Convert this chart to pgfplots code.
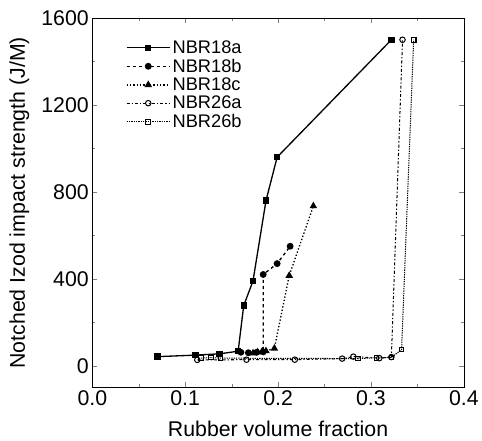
\documentclass[border={6bp 0bp 0bp 7bp}]{standalone}
\usepackage{fontspec}
\setmainfont{Liberation Sans}
\usepackage{pgfplots}
\pgfplotsset{compat=1.18}
\begin{document}
\begin{tikzpicture}
\begin{axis}[
  scale only axis,
  width=365bp, height=363bp,
  xmin=0, xmax=0.4, ymin=-100, ymax=1600,
  xtick={0,0.1,0.2,0.3,0.4}, ytick={0,400,800,1200,1600},
  minor x tick num=1, minor y tick num=1,
  tick align=inside,
  major tick length=5pt, minor tick length=3pt,
  /pgf/number format/assume math mode=true,
  x tick label style={/pgf/number format/fixed, /pgf/number format/fixed zerofill, /pgf/number format/precision=1},
  y tick label style={/pgf/number format/fixed, /pgf/number format/1000 sep={}},
  tick label style={font=\fontsize{21}{25}\selectfont},
  label style={font=\fontsize{21}{25}\selectfont},
  xlabel={Rubber volume fraction},
  ylabel={Notched Izod impact strength (J/M)},
  ylabel style={yshift=5pt},
  xlabel style={yshift=-8pt},
  legend style={draw=none, fill=none, at={(0.09,0.945)}, anchor=north west, inner xsep=0pt, inner ysep=0pt, font=\fontsize{18}{21}\selectfont, row sep=0pt},
  legend cell align=left,
  legend image code/.code={\draw[mark repeat=2,mark phase=2,#1] plot coordinates {(0cm,0cm) (0.75cm,0cm) (1.5cm,0cm)};},
  every axis plot/.append style={black, line width=1.3pt, mark size=2.7pt},
]
\addplot[solid, mark=square*, mark options={solid}, mark size=2.5pt] coordinates {
(0.070,42) (0.111,49) (0.137,55) (0.157,67) (0.163,277) (0.173,390) (0.187,760) (0.199,960) (0.322,1500)};
\addlegendentry{NBR18a}
\addplot[dashed, mark=*, mark options={solid}] coordinates {
(0.160,62) (0.168,60) (0.177,62) (0.184,64) (0.184,420) (0.199,470) (0.213,550)};
\addlegendentry{NBR18b}
\addplot[dotted, mark=triangle*, mark options={solid}, mark size=3pt] coordinates {
(0.173,58) (0.178,63) (0.183,67) (0.187,68) (0.196,80) (0.212,415) (0.238,735)};
\addlegendentry{NBR18c}
\addplot[dash dot, line width=1pt, mark=o, mark options={solid, fill=white, line width=1pt}] coordinates {
(0.113,27) (0.166,28) (0.218,28) (0.269,33) (0.281,42) (0.309,35) (0.322,40) (0.334,1500)};
\addlegendentry{NBR26a}
\addplot[densely dotted, line width=1pt, mark=square, mark options={solid, fill=white, line width=1pt}, mark size=2.3pt] coordinates {
(0.117,35) (0.128,38) (0.138,35) (0.286,33) (0.306,37) (0.322,38) (0.333,75) (0.346,1500)};
\addlegendentry{NBR26b}
\end{axis}
\end{tikzpicture}
\end{document}
